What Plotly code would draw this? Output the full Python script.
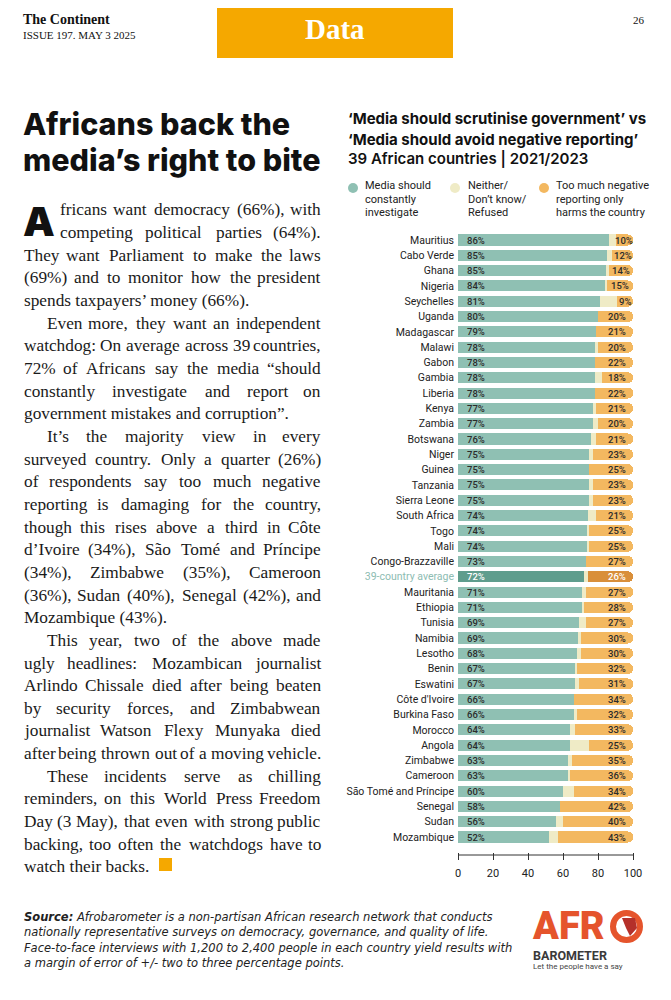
import plotly.graph_objects as go

W, H = 671, 1000
OFF = 8  # page body margin of the browser

countries = ["Mauritius", "Cabo Verde", "Ghana", "Nigeria", "Seychelles", "Uganda",
             "Madagascar", "Malawi", "Gabon", "Gambia", "Liberia", "Kenya", "Zambia",
             "Botswana", "Niger", "Guinea", "Tanzania", "Sierra Leone", "South Africa",
             "Togo", "Mali", "Congo-Brazzaville", "39-country average", "Mauritania",
             "Ethiopia", "Tunisia", "Namibia", "Lesotho", "Benin", "Eswatini",
             "Côte d'Ivoire", "Burkina Faso", "Morocco", "Angola", "Zimbabwe",
             "Cameroon", "São Tomé and Príncipe", "Senegal", "Sudan", "Mozambique"]
investigate = [86, 85, 85, 84, 81, 80, 79, 78, 78, 78, 78, 77, 77, 76, 75, 75, 75, 75, 74,
               74, 74, 73, 72, 71, 71, 69, 69, 68, 67, 67, 66, 66, 64, 64, 63, 63, 60, 58, 56, 52]
neither = [4, 3, 1, 1, 10, 0, 0, 2, 0, 4, 0, 2, 3, 3, 2, 0, 2, 2, 5, 1, 1, 0, 2, 2, 1, 4,
           1, 2, 1, 2, 0, 2, 3, 11, 2, 1, 6, 0, 4, 5]
harms = [10, 12, 14, 15, 9, 20, 21, 20, 22, 18, 22, 21, 20, 21, 23, 25, 23, 23, 21, 25, 25,
         27, 26, 27, 28, 27, 30, 30, 32, 31, 34, 32, 33, 25, 35, 36, 34, 42, 40, 43]
x_ticks = [0, 20, 40, 60, 80, 100]
AVG = "39-country average"

TEAL, TEAL_D = "#8fc0b3", "#5f9d8d"
CREAM = "#efebc6"
ORANGE, ORANGE_D = "#f3b860", "#d98f3a"
SANS = "Roboto"
SERIF = "Liberation Serif"


def px(x):
    return (x - OFF) / W


def py(y):
    return 1 - (y - OFF) / H


is_avg = [c == AVG for c in countries]
fig = go.Figure()
fig.add_trace(go.Bar(y=countries, x=investigate, orientation="h",
                     marker=dict(color=[TEAL_D if a else TEAL for a in is_avg], line_width=0),
                     hoverinfo="skip"))
fig.add_trace(go.Bar(y=countries, x=neither, orientation="h",
                     marker=dict(color=CREAM, line_width=0), hoverinfo="skip"))
fig.add_trace(go.Bar(y=countries, x=harms, orientation="h",
                     marker=dict(color=[ORANGE_D if a else ORANGE for a in is_avg], line_width=0),
                     hoverinfo="skip"))

ann = []
for c, v, h, a in zip(countries, investigate, harms, is_avg):
    col = "white" if a else "#2b2b2b"
    ann.append(dict(x=0, y=c, xref="x", yref="y", text=f"{v}%", showarrow=False,
                    xanchor="left", xshift=7, font=dict(family=SANS, size=9.5, color=col,
                                                         weight=500)))
    cx = max(100 - h / 2, 90.6)
    ann.append(dict(x=cx, y=c, xref="x", yref="y", text=f"{h}%", showarrow=False,
                    xanchor="center", font=dict(family=SANS, size=9.5, color=col, weight=500)))

ticktext = [f"<span style='color:#8dbcb2'>{c}</span>" if c == AVG else c for c in countries]


def T(x, y, text, size, color="#111", family=SANS, xanchor="left", yanchor="middle",
      weight=None, style=None):
    f = dict(family=family, size=size, color=color)
    if weight:
        f["weight"] = weight
    if style:
        f["style"] = style
    ann.append(dict(x=px(x), y=py(y), xref="paper", yref="paper", text=text,
                    showarrow=False, xanchor=xanchor, yanchor=yanchor, font=f))


# Header
T(21, 19, "The Continent", 14, "#111", SERIF, weight=700)
T(21, 35, "ISSUE 197. MAY 3 2025", 11, "#111", SERIF)
T(335, 29, "Data", 29, "white", SERIF, xanchor="center", weight=700)
T(647, 20, "26", 11, "#111", SERIF, xanchor="right")

# Headline
T(21, 124, "Africans back the", 30.5, "#111", "Inter", weight=800)
T(21, 159, "media’s right to bite", 30.5, "#111", "Inter", weight=800)

# Body text (justified using Times-compatible glyph widths)
lines = [
    "fricans want democracy (66%), with",
    "competing political parties (64%).",
    "They want Parliament to make the laws",
    "(69%) and to monitor how the president",
    "spends taxpayers’ money (66%).",
    "Even more, they want an independent",
    "watchdog: On average across 39 countries,",
    "72% of Africans say the media “should",
    "constantly investigate and report on",
    "government mistakes and corruption”.",
    "It’s the majority view in every",
    "surveyed country. Only a quarter (26%)",
    "of respondents say too much negative",
    "reporting is damaging for the country,",
    "though this rises above a third in Côte",
    "d’Ivoire (34%), São Tomé and Príncipe",
    "(34%), Zimbabwe (35%), Cameroon",
    "(36%), Sudan (40%), Senegal (42%), and",
    "Mozambique (43%).",
    "This year, two of the above made",
    "ugly headlines: Mozambican journalist",
    "Arlindo Chissale died after being beaten",
    "by security forces, and Zimbabwean",
    "journalist Watson Flexy Munyaka died",
    "after being thrown out of a moving vehicle.",
    "These incidents serve as chilling",
    "reminders, on this World Press Freedom",
    "Day (3 May), that even with strong public",
    "backing, too often the watchdogs have to",
    "watch their backs.",
]
TW = {" ": 250, "!": 333, "%": 833, "(": 333, ")": 333, ",": 250, "-": 333, ".": 250,
      ":": 278, "’": 333, "“": 444, "”": 444, "'": 180,
      "A": 722, "B": 667, "C": 667, "D": 722, "E": 611, "F": 556, "G": 722, "H": 722,
      "I": 333, "J": 389, "K": 722, "L": 611, "M": 889, "N": 722, "O": 722, "P": 556,
      "Q": 722, "R": 667, "S": 556, "T": 611, "U": 722, "V": 722, "W": 944, "X": 722,
      "Y": 722, "Z": 611,
      "a": 444, "b": 500, "c": 444, "d": 500, "e": 444, "f": 333, "g": 500, "h": 500,
      "i": 278, "j": 278, "k": 500, "l": 278, "m": 778, "n": 500, "o": 500, "p": 500,
      "q": 500, "r": 333, "s": 389, "t": 278, "u": 500, "v": 500, "w": 722, "x": 500,
      "y": 500, "z": 444, "ô": 500, "ã": 444, "é": 444, "í": 278}
BODY = 17.3
RIGHT = 323


def width(s):
    return sum(TW.get(ch, 500) for ch in s) / 1000 * BODY * 1.02


indent = {5, 10, 19, 25}
ragged = {4, 9, 18, 29}
for i, ln in enumerate(lines):
    x0 = 58 if i < 2 else (45 if i in indent else 22)
    y = 210 + 22.65 * i
    words = ln.split(" ")
    if i in ragged or len(words) < 2:
        T(x0, y, ln, BODY, "#1a1a1a", SERIF)
        continue
    gap = (RIGHT - x0 - sum(width(w) for w in words)) / (len(words) - 1)
    x = x0
    for k, w in enumerate(words):
        if k == 0:
            T(x0, y, w, BODY, "#1a1a1a", SERIF)
        elif k == len(words) - 1:
            T(RIGHT, y, w, BODY, "#1a1a1a", SERIF, xanchor="right")
        else:
            T(x + width(w) / 2, y, w, BODY, "#1a1a1a", SERIF, xanchor="center")
        x += width(w) + gap
T(21, 221.5, "A", 40, "#111", "Inter", weight=900)

# Chart title & legend
T(346, 119, "‘Media should scrutinise government’ vs", 15, "#111", "Inter", weight=700)
T(346, 139, "‘Media should avoid negative reporting’", 15, "#111", "Inter", weight=700)
T(346, 158, "39 African countries | 2021/2023", 15, "#111", "Inter", weight=600)
leg = [(363, ["Media should", "constantly", "investigate"]),
       (466, ["Neither/", "Don’t know/", "Refused"]),
       (554, ["Too much negative", "reporting only", "harms the country"])]
for x0, ls in leg:
    for j, t in enumerate(ls):
        T(x0, 186 + 13.5 * j, t, 11, "#222", SANS)

# Source
src = ["<b>Source:</b> Afrobarometer is a non-partisan African research network that conducts",
       "nationally representative surveys on democracy, governance, and quality of life.",
       "Face-to-face interviews with 1,200 to 2,400 people in each country yield results with",
       "a margin of error of +/- two to three percentage points."]
for j, t in enumerate(src):
    T(22, 917 + 15.3 * j, t, 11.5, "#222", "DejaVu Sans", style="italic")

# Logo
T(530, 926, "AFR", 38, "#e5542c", "Roboto", weight=900)
T(531, 955.5, "BAROMETER", 12.5, "#3a3a3a", "Roboto", weight=700)
T(531, 966.5, "Let the people have a say", 8, "#444", "Roboto")

shapes = [
    dict(type="rect", xref="paper", yref="paper", x0=px(217), x1=px(453), y0=py(0), y1=py(58),
         fillcolor="#f5a800", line_width=0, layer="below"),
    dict(type="rect", xref="paper", yref="paper", x0=px(159), x1=px(172), y0=py(858), y1=py(871),
         fillcolor="#f5a800", line_width=0),
    dict(type="line", xref="x", yref="paper", x0=0, x1=100, y0=py(855), y1=py(855),
         line=dict(color="#333", width=1)),
    dict(type="circle", xref="paper", yref="paper", x0=px(613), x1=px(640), y0=py(913), y1=py(940),
         line=dict(color="#e5542c", width=6)),
    dict(type="path", xref="paper", yref="paper",
         path=f"M {px(622)},{py(918)} L {px(635)},{py(918)} L {px(637)},{py(928)} "
              f"L {px(630)},{py(936)} L {px(626)},{py(928)} Z",
         fillcolor="#b5302a", line_width=0),
]
for cx, col in [(353, TEAL), (455, CREAM), (544, ORANGE)]:
    shapes.append(dict(type="circle", xref="paper", yref="paper", x0=px(cx - 5), x1=px(cx + 5),
                       y0=py(193), y1=py(183), fillcolor=col, line_width=0))

fig.update_layout(
    width=W, height=H, margin=dict(l=0, r=0, t=0, b=0),
    paper_bgcolor="white", plot_bgcolor="white",
    barmode="stack", bargap=0.28, barcornerradius=5, showlegend=False,
    xaxis=dict(domain=[px(458), px(633)], range=[0, 100], anchor="free", position=py(851.7),
               tickvals=x_ticks, ticks="outside", ticklen=7, tickcolor="#333", tickwidth=1,
               showgrid=False, zeroline=False, showline=False, automargin=False,
               tickfont=dict(family=SANS, size=11, color="#222"), ticklabelstandoff=4),
    yaxis=dict(domain=[py(844.65), py(232.35)], type="category", autorange="reversed",
               tickvals=countries, ticktext=ticktext, ticks="", showgrid=False,
               zeroline=False, showline=False, ticklabelstandoff=3, automargin=False,
               tickfont=dict(family=SANS, size=10.5, color="#222")),
    annotations=ann, shapes=shapes,
)
fig.write_html("out.html", config={"displayModeBar": False})
